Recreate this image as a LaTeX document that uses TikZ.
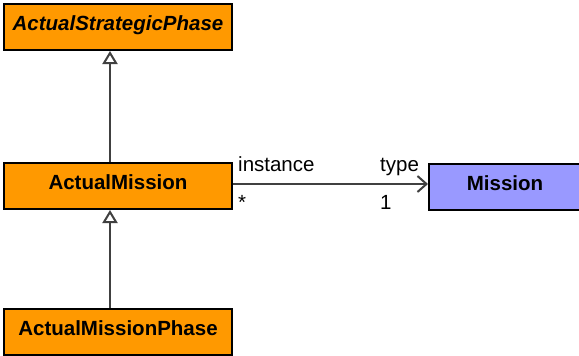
\documentclass[tikz,border=0pt]{standalone}
\usepackage{fontspec}
\setmainfont{Liberation Sans}
\usetikzlibrary{arrows.meta}
\definecolor{uorange}{HTML}{FF9900}
\definecolor{ublue}{HTML}{9999FF}
\definecolor{lgray}{HTML}{404040}
\begin{document}
\begin{tikzpicture}[x=1pt,y=-1pt,
  cls/.style={draw=black, line width=2pt, minimum width=228pt, minimum height=46pt, inner sep=0pt, text height=15pt, text depth=8pt, font=\fontsize{20.5}{24}\selectfont\bfseries},
  gen/.style={draw=lgray, line width=2pt, -{Triangle[open, length=13pt, width=15pt, fill=white]}},
  assoc/.style={draw=lgray, line width=2pt, -{Straight Barb[length=9pt, width=16pt]}},
  lbl/.style={anchor=base west, inner sep=0pt, font=\fontsize{20.5}{24}\selectfont}
]
\useasboundingbox (0,0) rectangle (579,356);
\clip (0,0) rectangle (579,356);
\node[cls, fill=uorange] (asp) at (118,27) {\itshape ActualStrategicPhase};
\node[cls, fill=uorange] (am) at (118,186) {ActualMission};
\node[cls, fill=uorange] (amp) at (118,332) {ActualMissionPhase};
\node[cls, fill=ublue, minimum width=152pt] (m) at (505,186.5) {Mission};
\draw[gen] ([xshift=-8pt]am.north) -- ([xshift=-8pt]asp.south);
\draw[gen] ([xshift=-8pt]amp.north) -- ([xshift=-8pt]am.south);
\draw[assoc] ([yshift=2pt]am.east) -- ([yshift=2.5pt]m.west);
\node[lbl] (l1) at (238,171) {instance};
\node[lbl] (l2) at (380,171) {type};
\node[lbl] (l3) at (238,209) {*};
\node[lbl] (l4) at (380,209) {1};
\end{tikzpicture}
\end{document}
